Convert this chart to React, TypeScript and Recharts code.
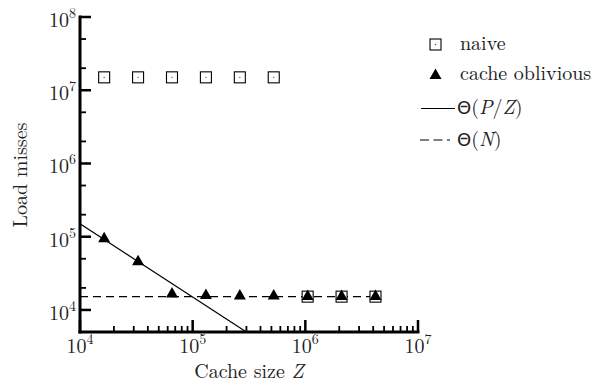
import React from 'react';
import { ComposedChart, Line, Scatter, XAxis, YAxis } from 'recharts';

// ---- data ----
const cacheSizes = [16384, 32768, 65536, 131072, 262144, 524288, 1048576, 2097152, 4194304];
const naiveMisses = [1.5e7, 1.5e7, 1.5e7, 1.5e7, 1.5e7, 1.5e7, 1.52e4, 1.52e4, 1.52e4];
const obliviousMisses = [9.7e4, 4.7e4, 1.7e4, 1.62e4, 1.6e4, 1.6e4, 1.57e4, 1.57e4, 1.57e4];
const pzX = [1e4, 3e5];
const pzY = [1.5e5, 5e3];
const nX = [1e4, 4194304];
const nY = [1.52e4, 1.52e4];

// ---- ticks ----
const xMajorTicks = [1e4, 1e5, 1e6, 1e7];
const xExponents = ['4', '5', '6', '7'];
const xMinorTicks = [
  2e4, 3e4, 4e4, 5e4, 6e4, 7e4, 8e4, 9e4,
  2e5, 3e5, 4e5, 5e5, 6e5, 7e5, 8e5, 9e5,
  2e6, 3e6, 4e6, 5e6, 6e6, 7e6, 8e6, 9e6,
];
const yMajorTicks = [1e4, 1e5, 1e6, 1e7, 1e8];
const yExponents = ['4', '5', '6', '7', '8'];
const yMinorTicks = [2e4, 5e4, 2e5, 5e5, 2e6, 5e6, 2e7, 5e7];

const legendLabels = ['naive', 'cache oblivious'];

const naiveData = cacheSizes.map((x, i) => ({ x, y: naiveMisses[i] }));
const obliviousData = cacheSizes.map((x, i) => ({ x, y: obliviousMisses[i] }));
const pzData = pzX.map((x, i) => ({ x, y: pzY[i] }));
const nData = nX.map((x, i) => ({ x, y: nY[i] }));

const FONT = { fontFamily: 'Latin Modern Roman, Liberation Serif, serif' };
const SANS = { fontFamily: 'DejaVu Sans, Liberation Sans, sans-serif' };
const FS = 20;
const SUP = 14;

const XTick = (props: any) => {
  const { x, y, payload } = props;
  const i = xMajorTicks.indexOf(payload.value);
  const major = i >= 0;
  return (
    <g>
      <rect x={x - (major ? 1.25 : 0.9)} y={y - (major ? 12 : 6)} width={major ? 2.5 : 1.8} height={major ? 12 : 6} fill="#000" />
      {major && (
        <text x={x} y={y + 21} textAnchor="middle" style={FONT} fontSize={FS} fill="#222">
          <tspan>10</tspan>
          <tspan dy={-9} fontSize={SUP}>{xExponents[i]}</tspan>
        </text>
      )}
    </g>
  );
};

const YTick = (props: any) => {
  const { x, y, payload } = props;
  const i = yMajorTicks.indexOf(payload.value);
  const major = i >= 0;
  return (
    <g>
      <rect x={x} y={y - (major ? 1.25 : 0.9)} width={major ? 11 : 6} height={major ? 2.5 : 1.8} fill="#000" />
      {major && (
        <text x={x - 4} y={y + 10} textAnchor="end" style={FONT} fontSize={FS} fill="#222">
          <tspan>10</tspan>
          <tspan dy={-9} fontSize={SUP}>{yExponents[i]}</tspan>
        </text>
      )}
    </g>
  );
};

const SquareMark = (props: any) => {
  const { cx, cy } = props;
  if (cx == null || cy == null) return <g />;
  return (
    <g>
      <rect x={cx - 5.5} y={cy - 5.5} width={11} height={11} fill="#fff" stroke="#000" strokeWidth={1.1} />
      <circle cx={cx} cy={cy} r={0.7} fill="#444" />
    </g>
  );
};

const TriangleMark = (props: any) => {
  const { cx, cy } = props;
  if (cx == null || cy == null) return <g />;
  return <polygon points={`${cx},${cy - 6} ${cx - 6},${cy + 4.5} ${cx + 6},${cy + 4.5}`} fill="#000" />;
};

export default function App() {
  return (
    <div style={{ position: 'absolute', left: 0, top: 0, width: 599, height: 384, background: '#fff' }}>
      <ComposedChart
        width={599}
        height={384}
        margin={{ top: 17, right: 181, left: 0, bottom: 0 }}
      >
        <XAxis
          type="number"
          dataKey="x"
          scale="log"
          domain={[1e4, 1e7]}
          allowDataOverflow
          ticks={[...xMajorTicks, ...xMinorTicks]}
          interval={0}
          tickSize={0}
          tickMargin={0}
          tickLine={false}
          tick={<XTick />}
          height={52}
          axisLine={{ stroke: '#000', strokeWidth: 3, strokeLinecap: 'square' }}
        />
        <YAxis
          type="number"
          dataKey="y"
          scale="log"
          domain={[5e3, 1e8]}
          allowDataOverflow
          ticks={[...yMajorTicks, ...yMinorTicks]}
          interval={0}
          tickSize={0}
          tickMargin={0}
          tickLine={false}
          tick={<YTick />}
          width={80}
          axisLine={{ stroke: '#000', strokeWidth: 3, strokeLinecap: 'square' }}
        />
        <Line data={nData} dataKey="y" stroke="#000" strokeWidth={1.2} strokeDasharray="8 5" dot={false} isAnimationActive={false} />
        <Line data={pzData} dataKey="y" stroke="#000" strokeWidth={1.2} dot={false} isAnimationActive={false} />
        <Scatter data={naiveData} dataKey="y" shape={<SquareMark />} isAnimationActive={false} />
        <Scatter data={obliviousData} dataKey="y" shape={<TriangleMark />} isAnimationActive={false} />
      </ComposedChart>
      <svg width={599} height={384} style={{ position: 'absolute', left: 0, top: 0, pointerEvents: 'none' }}>
        <text x={249} y={378} textAnchor="middle" style={FONT} fontSize={FS} fill="#222">
          Cache size <tspan fontStyle="italic">Z</tspan>
        </text>
        <text x={27} y={175} textAnchor="middle" style={FONT} fontSize={FS} fill="#222" transform="rotate(-90 27 175)">
          Load misses
        </text>
        {/* legend */}
        <rect x={430} y={39} width={11} height={11} fill="#fff" stroke="#000" strokeWidth={1.1} />
        <circle cx={435.5} cy={44.5} r={0.7} fill="#444" />
        <text x={460} y={50} style={FONT} fontSize={FS} fill="#222">{legendLabels[0]}</text>
        <polygon points="435.5,68.5 429.5,79 441.5,79" fill="#000" />
        <text x={460} y={80} style={FONT} fontSize={FS} fill="#222">{legendLabels[1]}</text>
        <line x1={421} y1={108.5} x2={455} y2={108.5} stroke="#000" strokeWidth={1.2} />
        <text x={457} y={114} style={FONT} fontSize={FS} fill="#222">
          <tspan style={SANS} fontSize={18}>Θ</tspan>(<tspan fontStyle="italic">P</tspan>/<tspan fontStyle="italic">Z</tspan>)
        </text>
        <line x1={420} y1={140} x2={450} y2={140} stroke="#000" strokeWidth={1.2} strokeDasharray="9 4.5" />
        <text x={457} y={146} style={FONT} fontSize={FS} fill="#222">
          <tspan style={SANS} fontSize={18}>Θ</tspan>(<tspan fontStyle="italic">N</tspan>)
        </text>
      </svg>
    </div>
  );
}
